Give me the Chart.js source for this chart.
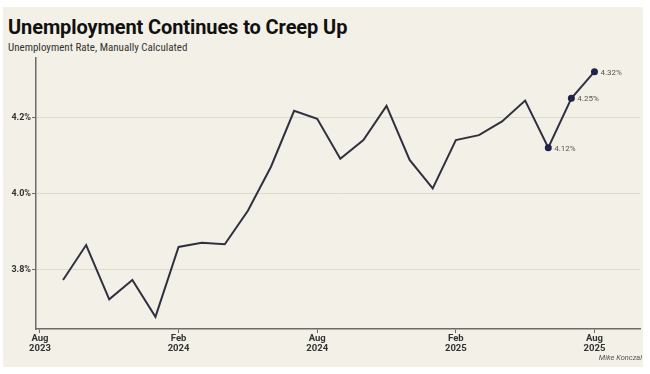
<!DOCTYPE html>
<html>
<head>
<meta charset="utf-8">
<script src="https://cdn.jsdelivr.net/npm/chart.js@4"></script>
<style>
  html, body { margin: 0; padding: 0; background: #fff; }
  #wrap { position: relative; width: 650px; height: 374px; overflow: hidden; }
  .panel { position: absolute; left: 3px; top: 7px; width: 640px; height: 360px; background: #f3f1e7; }
  canvas { position: absolute; left: 0; top: 0; }
  .title { position: absolute; left: 8px; top: 15px; font: 700 20px Roboto, sans-serif; color: #111; letter-spacing: -0.1px; white-space: nowrap; }
  .sub { position: absolute; left: 8px; top: 41px; font: 400 11px "Liberation Sans Narrow", "Roboto Condensed", Roboto, sans-serif; color: #333; white-space: nowrap; }
  .credit { position: absolute; right: 8px; top: 353px; font: italic 400 7.5px Roboto, sans-serif; color: #555; white-space: nowrap; }
</style>
</head>
<body>
<div id="wrap">
  <div class="panel"></div>
  <div class="title">Unemployment Continues to Creep Up</div>
  <div class="sub">Unemployment Rate, Manually Calculated</div>
  <canvas id="chart" width="650" height="374"></canvas>
  <div class="credit">Mike Konczal</div>
</div>
<script>
// months counted from Aug 2023 (= 0)
const months = ["Sep 2023", "Oct 2023", "Nov 2023", "Dec 2023", "Jan 2024", "Feb 2024", "Mar 2024", "Apr 2024",
  "May 2024", "Jun 2024", "Jul 2024", "Aug 2024", "Sep 2024", "Oct 2024", "Nov 2024", "Dec 2024",
  "Jan 2025", "Feb 2025", "Mar 2025", "Apr 2025", "May 2025", "Jun 2025", "Jul 2025", "Aug 2025"]
const monthIndex = [1, 2, 3, 4, 5, 6, 7, 8, 9, 10, 11, 12, 13, 14, 15, 16, 17, 18, 19, 20, 21, 22, 23, 24]
const rate = [3.772, 3.864, 3.721, 3.772, 3.675, 3.859, 3.870, 3.866, 3.954, 4.070, 4.217, 4.196,
  4.091, 4.140, 4.230, 4.088, 4.013, 4.140, 4.153, 4.189, 4.244, 4.12, 4.25, 4.32]
const labelled = [21, 22, 23]
const xTicks = [0, 6, 12, 18, 24]
const xTickLabels = [["Aug", "2023"], ["Feb", "2024"], ["Aug", "2024"], ["Feb", "2025"], ["Aug", "2025"]]
const yTicks = [3.8, 4.0, 4.2]

const lineColor = "#2f3142"
const dotColor = "#1f2347"
const axisColor = "#6b6b6b"

Chart.defaults.font.family = "Roboto, sans-serif"

const pointLabels = {
  id: "pointLabels",
  afterDatasetsDraw(chart) {
    const ctx = chart.ctx
    const meta = chart.getDatasetMeta(0)
    ctx.save()
    ctx.font = "400 8px Roboto, sans-serif"
    ctx.fillStyle = "#555"
    ctx.textBaseline = "middle"
    labelled.forEach(i => {
      const p = meta.data[i]
      ctx.fillText(rate[i].toFixed(2) + "%", p.x + 6, p.y + 1)
    })
    ctx.restore()
  }
}

const ctx = document.querySelector("#chart")
const chart = new Chart(ctx, {
  type: "line",
  data: {
    datasets: [{
      data: monthIndex.map((m, i) => ({ x: m, y: rate[i] })),
      borderColor: lineColor,
      borderWidth: 2,
      tension: 0,
      pointRadius: rate.map((v, i) => labelled.includes(i) ? 3.5 : 0),
      pointBackgroundColor: dotColor,
      pointBorderColor: dotColor,
      pointBorderWidth: 0
    }]
  },
  options: {
    responsive: false,
    animation: false,
    events: [],
    layout: { padding: { top: 58, right: 10, left: 0, bottom: 0 } },
    plugins: { legend: { display: false }, tooltip: { enabled: false } },
    scales: {
      x: {
        type: "linear",
        min: -0.17,
        max: 25.97,
        afterBuildTicks: s => { s.ticks = xTicks.map(v => ({ value: v })) },
        afterFit: s => { s.height = 45 },
        border: { display: true, color: axisColor, width: 1.5 },
        grid: { drawOnChartArea: false, drawTicks: true, tickLength: 4, tickColor: axisColor },
        ticks: {
          autoSkip: false,
          maxRotation: 0,
          padding: 1,
          color: "#333",
          font: { size: 9.5, weight: "bold", lineHeight: 1.05 },
          callback: (v) => xTickLabels[xTicks.indexOf(v)]
        }
      },
      y: {
        min: 3.643,
        max: 4.356,
        afterBuildTicks: s => { s.ticks = yTicks.map(v => ({ value: v })) },
        afterFit: s => { s.width = 36 },
        border: { display: true, color: axisColor, width: 1.5 },
        grid: { color: "#dddacd", lineWidth: 1, drawTicks: true, tickLength: 4, tickColor: axisColor },
        ticks: {
          padding: 1,
          color: "#333",
          font: { size: 9, weight: "bold" },
          callback: v => v.toFixed(1) + "%"
        }
      }
    }
  },
  plugins: [pointLabels]
})
</script>
</body>
</html>
